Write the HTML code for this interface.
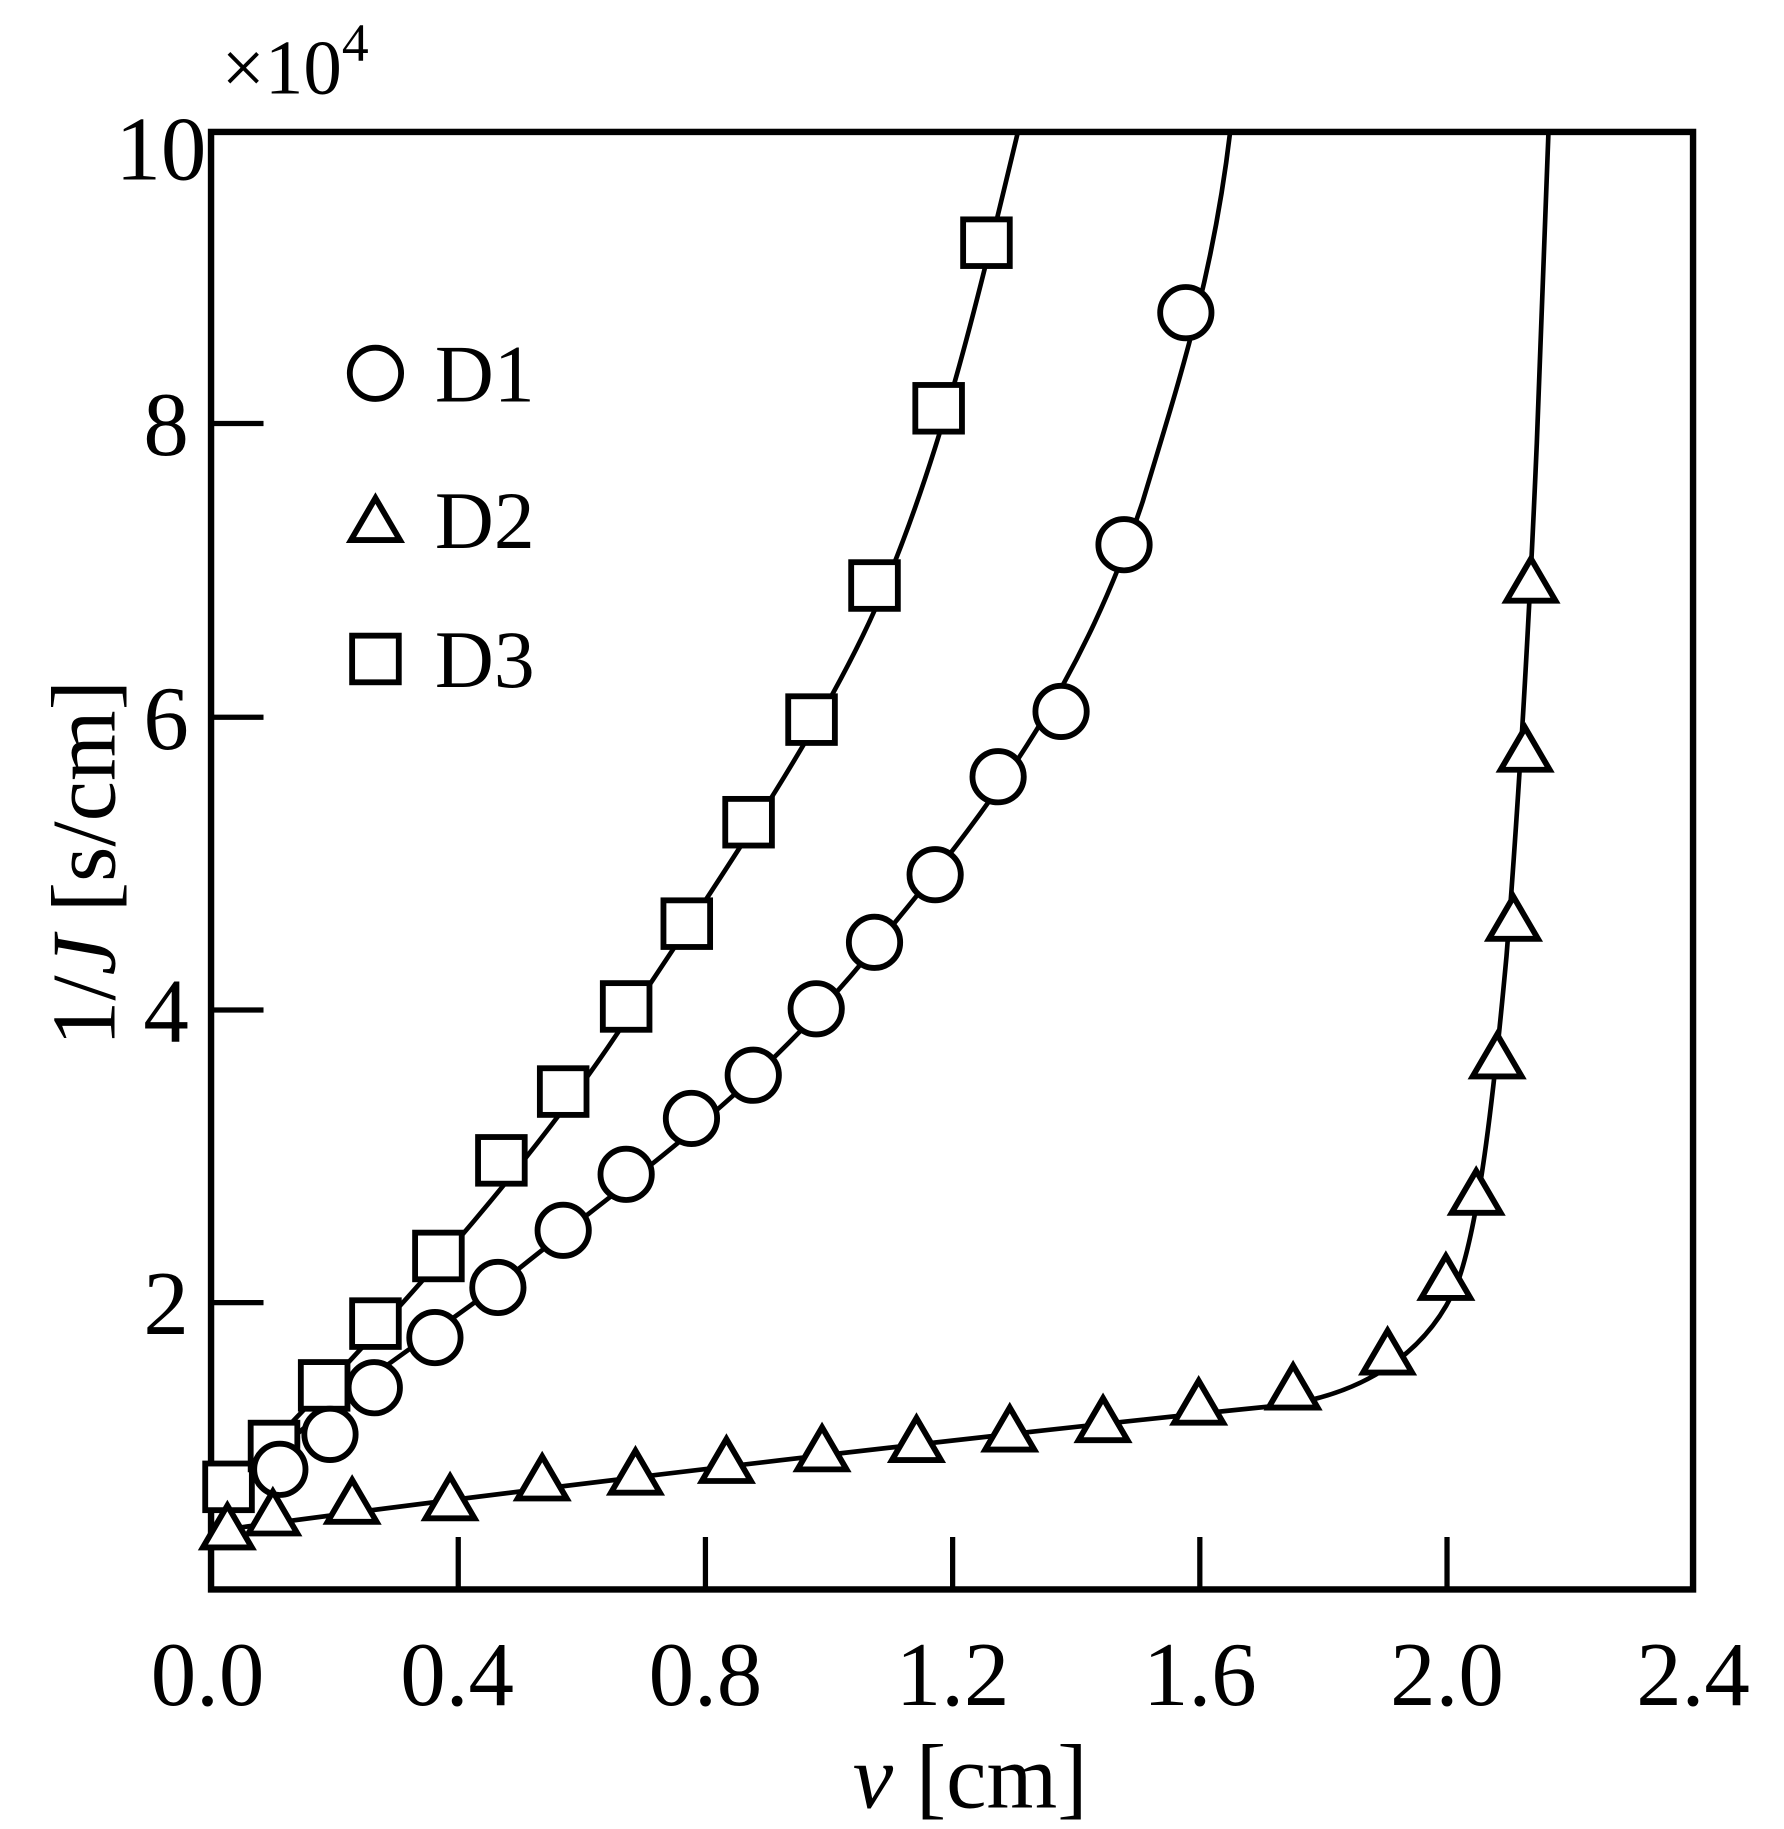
<!DOCTYPE html>
<html><head><style>html,body{margin:0;padding:0;background:#fff}</style></head><body>
<svg width="1784" height="1824" viewBox="0 0 1530 1564" xmlns="http://www.w3.org/2000/svg" font-family="Liberation Serif, serif">
<rect width="1530" height="1564" fill="#fff"/>
<g fill="none" stroke="#000" stroke-width="4">
<path d="M190,1290 C260,1215 350,1160 430,1100 C540,1010 650,940 760,800 C860,680 930,580 980,430 C1010,330 1040,240 1055,113"/>
<path d="M190,1282 C300,1170 450,1010 540,870 C640,720 720,600 760,500 C810,380 840,250 873,113"/>
<path d="M190,1312 C500,1270 900,1225 1100,1205 C1170,1195 1225,1160 1250,1100 C1268,1050 1280,950 1292,820 C1303,680 1312,520 1318,380 C1322,260 1325,180 1328,113"/>
</g>
<rect x="181" y="113" width="1271" height="1250" fill="none" stroke="#000" stroke-width="5.5"/>
<g stroke="#000" stroke-width="4.5">
<line x1="181" y1="1117" x2="226" y2="1117"/><line x1="181" y1="866" x2="226" y2="866"/>
<line x1="181" y1="615" x2="226" y2="615"/><line x1="181" y1="363" x2="226" y2="363"/>
<line x1="393" y1="1363" x2="393" y2="1318"/><line x1="605" y1="1363" x2="605" y2="1318"/>
<line x1="817" y1="1363" x2="817" y2="1318"/><line x1="1029" y1="1363" x2="1029" y2="1318"/>
<line x1="1241" y1="1363" x2="1241" y2="1318"/>
</g>
<g fill="#fff" stroke="#000" stroke-width="5">
<g>
<rect x="176" y="1255" width="40" height="40"/><rect x="215" y="1220" width="40" height="40"/>
<rect x="258" y="1168" width="40" height="40"/><rect x="302" y="1115" width="40" height="40"/>
<rect x="356" y="1057" width="40" height="40"/><rect x="410" y="975" width="40" height="40"/>
<rect x="463" y="916" width="40" height="40"/><rect x="517" y="843" width="40" height="40"/>
<rect x="569" y="772" width="40" height="40"/><rect x="622" y="685" width="40" height="40"/>
<rect x="676" y="597" width="40" height="40"/><rect x="730" y="482" width="40" height="40"/>
<rect x="785" y="330" width="40" height="40"/><rect x="826" y="188" width="40" height="40"/>
</g>
<g>
<circle cx="240" cy="1260" r="22"/><circle cx="283" cy="1230" r="22"/><circle cx="321" cy="1190" r="22"/>
<circle cx="373" cy="1147" r="22"/><circle cx="427" cy="1104" r="22"/><circle cx="483" cy="1055" r="22"/>
<circle cx="537" cy="1007" r="22"/><circle cx="593" cy="959" r="22"/><circle cx="646" cy="922" r="22"/>
<circle cx="700" cy="865" r="22"/><circle cx="750" cy="808" r="22"/><circle cx="802" cy="750" r="22"/>
<circle cx="856" cy="666" r="22"/><circle cx="910" cy="610" r="22"/><circle cx="964" cy="467" r="22"/>
<circle cx="1017" cy="268" r="22"/>
</g>
<g>
<path d="M195,1291 l21,36 h-42 z"/><path d="M234,1279 l21,36 h-42 z"/><path d="M302,1269 l21,36 h-42 z"/>
<path d="M386,1266 l21,36 h-42 z"/><path d="M465,1249 l21,36 h-42 z"/><path d="M545,1244 l21,36 h-42 z"/>
<path d="M623,1234 l21,36 h-42 z"/><path d="M705,1224 l21,36 h-42 z"/><path d="M786,1216 l21,36 h-42 z"/>
<path d="M866,1207 l21,36 h-42 z"/><path d="M946,1199 l21,36 h-42 z"/><path d="M1028,1184 l21,36 h-42 z"/>
<path d="M1109,1171 l21,36 h-42 z"/><path d="M1190,1141 l21,36 h-42 z"/><path d="M1240,1077 l21,36 h-42 z"/>
<path d="M1266,1004 l21,36 h-42 z"/><path d="M1284,887 l21,36 h-42 z"/><path d="M1298,769 l21,36 h-42 z"/>
<path d="M1308,624 l21,36 h-42 z"/><path d="M1313,479 l21,36 h-42 z"/>
</g>
<circle cx="322" cy="320" r="22"/>
<path d="M322,427 l21,36 h-42 z"/>
<rect x="302" y="545" width="40" height="40"/>
</g>
<g font-size="70" fill="#000">
<text x="373" y="344">D1</text><text x="373" y="470">D2</text><text x="373" y="589">D3</text>
</g>
<g font-size="78" fill="#000" text-anchor="end">
<text x="177" y="154">10</text><text x="162" y="390">8</text><text x="162" y="642">6</text>
<text x="162" y="893">4</text><text x="162" y="1144">2</text>
</g>
<g font-size="78" fill="#000" text-anchor="middle">
<text x="178" y="1462">0.0</text><text x="392" y="1462">0.4</text><text x="605" y="1462">0.8</text>
<text x="817" y="1462">1.2</text><text x="1029" y="1462">1.6</text><text x="1241" y="1462">2.0</text>
<text x="1452" y="1462">2.4</text>
</g>
<text x="190" y="80" font-size="66" fill="#000">×10<tspan font-size="46" dy="-28">4</tspan></text>
<text x="832" y="1550" font-size="78" fill="#000" text-anchor="middle"><tspan font-style="italic">v</tspan> [cm]</text>
<text transform="translate(98,740) rotate(-90)" font-size="78" fill="#000" text-anchor="middle">1/<tspan font-style="italic">J</tspan> [s/cm]</text>
</svg>
</body></html>
